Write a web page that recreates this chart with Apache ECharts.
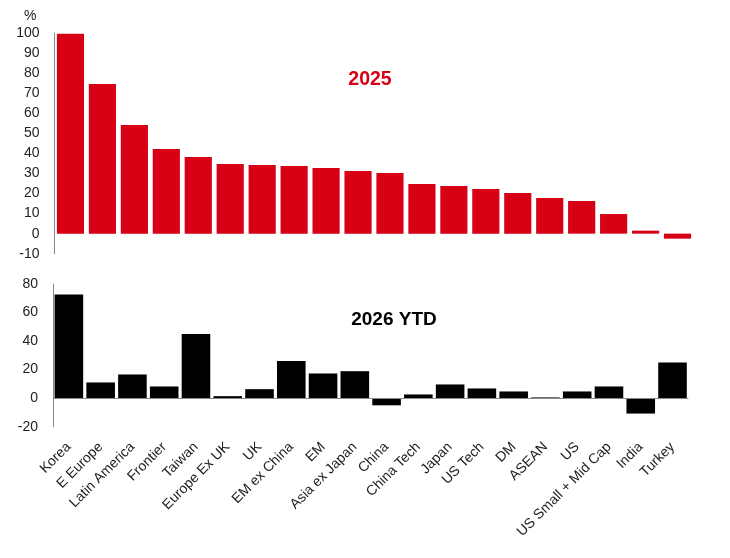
<!DOCTYPE html>
<html>
<head>
<meta charset="utf-8">
<script src="https://cdn.jsdelivr.net/npm/echarts@6/dist/echarts.min.js"></script>
<style>
html,body{margin:0;padding:0;background:#fff;}
#chart{width:730px;height:558px;}
</style>
</head>
<body>
<div id="chart"></div>
<script>
const categories = ["Korea","E Europe","Latin America","Frontier","Taiwan","Europe Ex UK","UK","EM ex China","EM","Asia ex Japan","China","China Tech","Japan","US Tech","DM","ASEAN","US","US Small + Mid Cap","India","Turkey"];
const values2025 = [99.8,74.7,54.2,42.3,38.3,34.8,34.3,33.8,32.8,31.3,30.3,24.8,23.8,22.3,20.3,17.8,16.3,9.8,1.5,-2.5];
const values2026 = [72.7,11,16.6,8.2,44.9,1.4,6.3,26,17.3,18.9,-5,2.6,9.6,6.8,4.7,0.5,4.7,8.2,-10.8,25];
const ticksTop = {min:-10,max:100,interval:10};
const ticksBottom = {min:-20,max:80,interval:20};

const font = "'Liberation Sans', Arial, sans-serif";
const chart = echarts.init(document.getElementById('chart'));
chart.setOption({
  animation:false,
  backgroundColor:'#fff',
  textStyle:{fontFamily:font},
  grid:[
    {left:54.5, right:36.5, top:33.3, height:220.4, containLabel:false},
    {left:53, right:41.6, top:284, height:142.7, containLabel:false}
  ],
  xAxis:[
    {gridIndex:0,type:'category',data:categories,axisLine:{show:false},axisTick:{show:false},axisLabel:{show:false},splitLine:{show:false}},
    {gridIndex:1,type:'category',data:categories,axisLine:{show:false,onZero:false},axisTick:{show:false},
      axisLabel:{show:true,rotate:45,interval:0,margin:18,fontSize:14,color:'#222',fontFamily:font},splitLine:{show:false}}
  ],
  yAxis:[
    {gridIndex:0,type:'value',min:ticksTop.min,max:ticksTop.max,interval:ticksTop.interval,
      axisLine:{show:true,lineStyle:{color:'#888',width:1}},axisTick:{show:false},splitLine:{show:false},
      axisLabel:{margin:15,fontSize:14,color:'#222',fontFamily:font}},
    {gridIndex:1,type:'value',min:ticksBottom.min,max:ticksBottom.max,interval:ticksBottom.interval,
      axisLine:{show:true,lineStyle:{color:'#888',width:1}},axisTick:{show:false},splitLine:{show:false},
      axisLabel:{margin:15,fontSize:14,color:'#222',fontFamily:font}}
  ],
  series:[
    {type:'bar',xAxisIndex:0,yAxisIndex:0,data:values2025,barCategoryGap:'15%',itemStyle:{color:'#d70015'}},
    {type:'bar',xAxisIndex:1,yAxisIndex:1,data:values2026,barCategoryGap:'10%',itemStyle:{color:'#000'},
      markLine:{silent:true,symbol:'none',label:{show:false},lineStyle:{color:'#888',type:'solid',width:1},data:[{yAxis:0}]}}
  ],
  graphic:[
    {type:'text',left:24,top:9,style:{text:'%',fontSize:14,fill:'#222',fontFamily:font}},
    {type:'text',x:370,y:80,style:{text:'2025',fontSize:19.5,fontWeight:'bold',fill:'#d70015',fontFamily:font,textAlign:'center',textVerticalAlign:'middle'}},
    {type:'text',x:394,y:320,style:{text:'2026 YTD',fontSize:19,fontWeight:'bold',fill:'#000',fontFamily:font,textAlign:'center',textVerticalAlign:'middle'}}
  ]
});
</script>
</body>
</html>
